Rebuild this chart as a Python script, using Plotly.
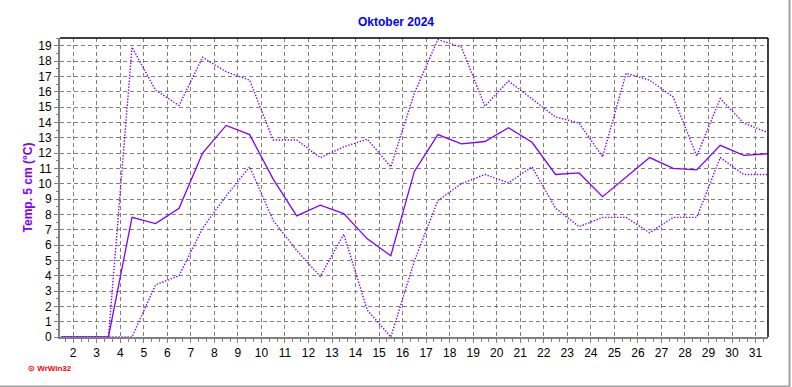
import plotly.graph_objects as go

days = [d + 0.5 for d in range(1, 32)]
t_mean = [0, 0, 0, 7.8, 7.4, 8.4, 12.0, 13.8, 13.2, 10.3, 7.9, 8.6, 8.05, 6.4, 5.3,
          10.8, 13.2, 12.6, 12.75, 13.65, 12.7, 10.6, 10.7, 9.15, 10.45, 11.7, 11.0, 10.9,
          12.5, 11.85, 11.95]
t_max = [0, 0, 0, 18.9, 16.1, 15.1, 18.25, 17.3, 16.75, 12.85, 12.85, 11.7, 12.4, 12.9, 11.1,
         15.9, 19.4, 18.9, 15.05, 16.7, 15.55, 14.35, 13.95, 11.75, 17.2, 16.75, 15.65, 11.8,
         15.55, 13.95, 13.35]
t_min = [0, 0, 0, 0, 3.4, 4.0, 7.1, 9.2, 11.1, 7.6, 5.65, 3.95, 6.7, 1.75, 0.0,
         4.95, 8.9, 10.0, 10.6, 10.05, 11.1, 8.4, 7.2, 7.8, 7.8, 6.8, 7.8, 7.8,
         11.7, 10.6, 10.6]
x_ticks = list(range(2, 32))
y_ticks = list(range(0, 20))

PURPLE = "#8000FF"
fig = go.Figure()
fig.add_trace(go.Scatter(x=days, y=t_max, mode="lines",
                         line=dict(color=PURPLE, width=1.4, dash="1.4px,1.6px")))
fig.add_trace(go.Scatter(x=days, y=t_min, mode="lines",
                         line=dict(color=PURPLE, width=1.4, dash="1.4px,1.6px")))
fig.add_trace(go.Scatter(x=days, y=t_mean, mode="lines",
                         line=dict(color=PURPLE, width=1.3)))

fig.update_layout(
    width=792, height=387,
    margin=dict(l=60, r=24, t=38, b=50),
    paper_bgcolor="white", plot_bgcolor="white",
    showlegend=False,
    font=dict(family="Liberation Sans, Arial, sans-serif", size=12, color="black"),
    title=dict(text="<b>Oktober 2024</b>", x=0.5, xanchor="center", y=1 - 22/387,
               yanchor="middle", font=dict(size=12, color="#0000FF")),
)
fig.update_xaxes(
    range=[1.44, 31.53], tickvals=x_ticks, ticktext=[str(v) for v in x_ticks],
    showgrid=True, gridcolor="#808080", griddash="4px,3px", gridwidth=1,
    showline=True, linecolor="#808080", linewidth=2,
    ticks="outside", ticklen=4, tickcolor="#808080", tickfont=dict(size=12),
    zeroline=False,
    minor=dict(dtick=1/3, tick0=0, ticks="outside", ticklen=3, tickcolor="#808080", showgrid=False),
)
fig.update_yaxes(
    range=[0, 19.5], tickvals=y_ticks, ticktext=[str(v) for v in y_ticks],
    showgrid=True, gridcolor="#808080", griddash="4px,3px", gridwidth=1,
    showline=True, linecolor="#808080", linewidth=2,
    ticks="outside", ticklen=4, tickcolor="#808080", tickfont=dict(size=12),
    zeroline=False,
    title=dict(text="<b>Temp. 5 cm (°C)</b>", font=dict(size=12, color=PURPLE), standoff=3),
    minor=dict(dtick=0.5, ticks="outside", ticklen=2, tickcolor="#808080", showgrid=False),
)
# top and right black frame of plot area
fig.add_shape(type="line", xref="paper", yref="paper", x0=0, x1=1, y0=1, y1=1,
              line=dict(color="black", width=1.5))
fig.add_shape(type="line", xref="paper", yref="paper", x0=1, x1=1, y0=0, y1=1,
              line=dict(color="black", width=1.5))
# outer panel border (right and bottom)
fig.add_shape(type="line", xref="paper", yref="paper", x0=-60/708, x1=1.0304, y0=-0.1656, y1=-0.1656,
              line=dict(color="#A0A0A0", width=2))
fig.add_shape(type="line", xref="paper", yref="paper", x0=1.0304, x1=1.0304, y0=-0.1656, y1=1.127,
              line=dict(color="#A0A0A0", width=2))
fig.add_annotation(text="<b>⊙ WrWin32</b>", xref="paper", yref="paper",
                   x=-34/708, y=-(368-337)/299, xanchor="left", yanchor="middle",
                   showarrow=False, font=dict(size=8, color="#FF0000"))

fig.write_html("out.html")
